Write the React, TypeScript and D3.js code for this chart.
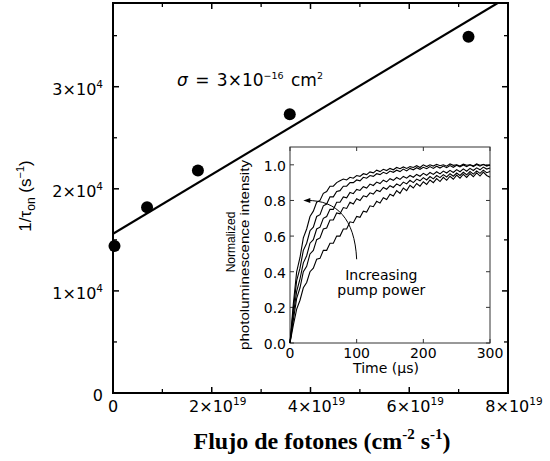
import React from "react";
import * as d3 from "d3";

// ---------- main chart data ----------
const fluxValues = [0.03e19, 0.69e19, 1.72e19, 3.58e19, 7.2e19];
const rateValues = [1.44e4, 1.82e4, 2.18e4, 2.73e4, 3.49e4];
const fitFlux = [0, 8e19];
const fitRate = [1.56e4, 3.88e4];
const xTickValues = [0, 2e19, 4e19, 6e19, 8e19];
const xTickBase = ["0", "2×10", "4×10", "6×10", "8×10"];
const xTickExp = ["", "19", "19", "19", "19"];
const xMinorTicks = [1e19, 3e19, 5e19, 7e19];
const yTickValues = [0, 1e4, 2e4, 3e4];
const yTickBase = ["0", "1×10", "2×10", "3×10"];
const yTickExp = ["", "4", "4", "4"];
const yMinorTicks = [0.5e4, 1.5e4, 2.5e4, 3.5e4];

// ---------- inset data ----------
const timeUs = [
  0, 5, 10, 15, 20, 25, 30, 35, 40, 45, 50, 55, 60, 65, 70, 75, 80, 85, 90, 95,
  100, 105, 110, 115, 120, 125, 130, 135, 140, 145, 150, 155, 160, 165, 170, 175,
  180, 185, 190, 195, 200, 205, 210, 215, 220, 225, 230, 235, 240, 245, 250, 255,
  260, 265, 270, 275, 280, 285, 290, 295, 300,
];
const curveA = [
  0.0, 0.22, 0.4, 0.48, 0.59, 0.64, 0.71, 0.74, 0.79, 0.8,
  0.84, 0.85, 0.88, 0.88, 0.9, 0.91, 0.92, 0.915, 0.93, 0.925,
  0.94, 0.935, 0.95, 0.945, 0.96, 0.955, 0.97, 0.962, 0.975, 0.968,
  0.98, 0.972, 0.985, 0.978, 0.988, 0.98, 0.99, 0.985, 0.995, 0.985,
  1.0, 0.99, 1.0, 0.993, 1.003, 0.995, 1.0, 0.992, 1.005, 0.997,
  1.0, 0.993, 1.004, 0.998, 1.0, 0.994, 1.005, 0.998, 1.002, 0.996,
  0.998,
];
const curveB = [
  0.0, 0.19, 0.35, 0.42, 0.52, 0.56, 0.63, 0.65, 0.71, 0.72,
  0.77, 0.78, 0.82, 0.82, 0.85, 0.855, 0.88, 0.88, 0.9, 0.9,
  0.915, 0.91, 0.93, 0.925, 0.94, 0.935, 0.95, 0.945, 0.958, 0.95,
  0.965, 0.958, 0.97, 0.962, 0.976, 0.966, 0.98, 0.972, 0.984, 0.975,
  0.986, 0.978, 0.99, 0.98, 0.992, 0.982, 0.993, 0.984, 0.996, 0.986,
  0.998, 0.988, 0.999, 0.99, 1.0, 0.99, 1.002, 0.992, 1.003, 0.993,
  0.999,
];
const curveC = [
  0.0, 0.16, 0.29, 0.36, 0.45, 0.49, 0.56, 0.58, 0.64, 0.65,
  0.7, 0.71, 0.75, 0.75, 0.79, 0.79, 0.82, 0.815, 0.845, 0.838,
  0.862, 0.856, 0.877, 0.87, 0.892, 0.884, 0.903, 0.895, 0.914, 0.904,
  0.922, 0.913, 0.929, 0.918, 0.935, 0.925, 0.94, 0.93, 0.946, 0.936,
  0.952, 0.941, 0.957, 0.946, 0.961, 0.949, 0.965, 0.954, 0.969, 0.957,
  0.973, 0.961, 0.977, 0.964, 0.98, 0.968, 0.983, 0.972, 0.987, 0.976,
  0.982,
];
const curveD = [
  0.0, 0.13, 0.25, 0.31, 0.4, 0.43, 0.5, 0.52, 0.58, 0.59,
  0.64, 0.645, 0.69, 0.69, 0.73, 0.725, 0.76, 0.755, 0.79, 0.78,
  0.81, 0.8, 0.826, 0.82, 0.843, 0.836, 0.858, 0.85, 0.873, 0.863,
  0.883, 0.873, 0.893, 0.882, 0.903, 0.893, 0.913, 0.9, 0.92, 0.91,
  0.928, 0.915, 0.934, 0.921, 0.94, 0.928, 0.945, 0.932, 0.95, 0.936,
  0.954, 0.94, 0.958, 0.944, 0.962, 0.948, 0.966, 0.952, 0.97, 0.956,
  0.962,
];
const curveE = [
  0.0, 0.1, 0.19, 0.24, 0.31, 0.34, 0.4, 0.42, 0.47, 0.475,
  0.52, 0.52, 0.56, 0.56, 0.6, 0.6, 0.64, 0.64, 0.68, 0.675,
  0.71, 0.705, 0.74, 0.735, 0.77, 0.765, 0.795, 0.785, 0.815, 0.805,
  0.835, 0.825, 0.855, 0.84, 0.87, 0.855, 0.885, 0.87, 0.895, 0.88,
  0.905, 0.89, 0.915, 0.9, 0.923, 0.906, 0.93, 0.913, 0.936, 0.919,
  0.942, 0.925, 0.947, 0.929, 0.951, 0.933, 0.955, 0.937, 0.959, 0.94,
  0.93,
];
const insetCurves = [curveA, curveB, curveC, curveD, curveE];
const insetYTicks = [0, 0.2, 0.4, 0.6, 0.8, 1.0];
const insetYLabels = ["0.0", "0.2", "0.4", "0.6", "0.8", "1.0"];
const insetXTicks = [0, 100, 200, 300];
const insetXLabels = ["0", "100", "200", "300"];
const arrowT = [100, 97, 70, 20];
const arrowV = [0.47, 0.7, 0.8, 0.8];

const W = 550;
const H = 461;
const SANS = "'DejaVu Sans', sans-serif";
const ARIAL = "'Liberation Sans', Arial, sans-serif";

export default function App() {
  const x = d3.scaleLinear().domain([0, 8e19]).range([113, 508]);
  const y = d3.scaleLinear().domain([0, 3.82e4]).range([393, 3]);

  const ix = d3.scaleLinear().domain([0, 300]).range([290, 490]);
  const iy = d3.scaleLinear().domain([0, 1.1]).range([343, 147]);

  const fitLine = d3
    .line<number>()
    .x((_, i) => x(fitFlux[i]))
    .y((_, i) => y(fitRate[i]));

  const curveLine = d3
    .line<number>()
    .x((_, i) => ix(timeUs[i]))
    .y((v) => iy(v));

  const ap = d3.path();
  ap.moveTo(ix(arrowT[0]), iy(arrowV[0]));
  ap.bezierCurveTo(
    ix(arrowT[1]), iy(arrowV[1]),
    ix(arrowT[2]), iy(arrowV[2]),
    ix(arrowT[3]) + 4, iy(arrowV[3])
  );
  const tipX = ix(arrowT[3]);
  const tipY = iy(arrowV[3]);

  const x0 = x(0), x1 = x(8e19), y0 = y(0), y1 = y(3.82e4);

  return (
    <svg
      width={W}
      height={H}
      style={{ position: "absolute", left: 0, top: 0, background: "#fff" }}
    >
      <defs>
        <clipPath id="plotClip">
          <rect x={x0} y={y1} width={x1 - x0} height={y0 - y1} />
        </clipPath>
      </defs>

      {/* main frame */}
      <rect x={x0} y={y1} width={x1 - x0} height={y0 - y1} fill="none" stroke="#000" strokeWidth={2} />

      {/* x ticks (bottom & top, inward) */}
      {xTickValues.map((v, i) => (
        <g key={"xt" + i}>
          <line x1={x(v)} x2={x(v)} y1={y0} y2={y0 - 6} stroke="#000" strokeWidth={1.5} />
          <line x1={x(v)} x2={x(v)} y1={y1} y2={y1 + 6} stroke="#000" strokeWidth={1.5} />
          <text
            x={x(v) + (xTickExp[i] ? 6 : 0)}
            y={412}
            textAnchor="middle"
            fontFamily={SANS}
            fontSize={16}
          >
            {xTickBase[i]}
            {xTickExp[i] && (
              <tspan fontSize={10.5} dy={-7}>{xTickExp[i]}</tspan>
            )}
          </text>
        </g>
      ))}
      {xMinorTicks.map((v, i) => (
        <g key={"xm" + i}>
          <line x1={x(v)} x2={x(v)} y1={y0} y2={y0 - 4} stroke="#000" strokeWidth={1.3} />
          <line x1={x(v)} x2={x(v)} y1={y1} y2={y1 + 4} stroke="#000" strokeWidth={1.3} />
        </g>
      ))}

      {/* y ticks (left & right, inward) */}
      {yTickValues.map((v, i) => (
        <g key={"yt" + i}>
          <line x1={x0} x2={x0 + 6} y1={y(v)} y2={y(v)} stroke="#000" strokeWidth={1.5} />
          <line x1={x1} x2={x1 - 6} y1={y(v)} y2={y(v)} stroke="#000" strokeWidth={1.5} />
          <text x={103} y={y(v) + 8} textAnchor="end" fontFamily={SANS} fontSize={16}>
            {yTickBase[i]}
            {yTickExp[i] && (
              <tspan fontSize={10.5} dy={-7}>{yTickExp[i]}</tspan>
            )}
          </text>
        </g>
      ))}
      {yMinorTicks.map((v, i) => (
        <g key={"ym" + i}>
          <line x1={x0} x2={x0 + 4} y1={y(v)} y2={y(v)} stroke="#000" strokeWidth={1.3} />
          <line x1={x1} x2={x1 - 4} y1={y(v)} y2={y(v)} stroke="#000" strokeWidth={1.3} />
        </g>
      ))}

      {/* fit line */}
      <path d={fitLine(fitFlux) || ""} fill="none" stroke="#000" strokeWidth={2.2} clipPath="url(#plotClip)" />

      {/* data points */}
      {fluxValues.map((v, i) => (
        <circle key={"pt" + i} cx={x(v)} cy={y(rateValues[i])} r={6} fill="#000" />
      ))}

      {/* sigma annotation */}
      <text x={177} y={86} fontFamily={SANS} fontSize={17} wordSpacing={2}>
        <tspan fontStyle="italic">σ</tspan>
        <tspan>{" = 3×10"}</tspan>
        <tspan fontSize={9.5} dy={-7}>{"−16"}</tspan>
        <tspan dy={7}>{" cm"}</tspan>
        <tspan fontSize={9.5} dy={-7}>2</tspan>
      </text>

      {/* main y label */}
      <text
        transform={`translate(31,196) rotate(-90)`}
        textAnchor="middle"
        fontFamily={ARIAL}
        fontSize={17}
      >
        1/τ
        <tspan fontSize={12} dy={4}>on</tspan>
        <tspan dy={-4}>{" (s"}</tspan>
        <tspan fontSize={11} dy={-7}>−1</tspan>
        <tspan dy={7}>)</tspan>
      </text>

      {/* main x label */}
      <text
        x={322}
        y={449}
        textAnchor="middle"
        fontFamily="'Liberation Serif', 'Times New Roman', serif"
        fontWeight="bold"
        fontSize={24}
      >
        Flujo de fotones (cm
        <tspan fontSize={15} dy={-10}>-2</tspan>
        <tspan dy={10}>{" s"}</tspan>
        <tspan fontSize={15} dy={-10}>-1</tspan>
        <tspan dy={10}>)</tspan>
      </text>

      {/* ---------- inset ---------- */}
      <rect x={ix(0)} y={iy(1.1)} width={ix(300) - ix(0)} height={iy(0) - iy(1.1)} fill="#fff" stroke="#333" strokeWidth={1} />
      {insetYTicks.map((v, i) => (
        <g key={"iyt" + i}>
          <line x1={ix(0)} x2={ix(0) + 4} y1={iy(v)} y2={iy(v)} stroke="#333" strokeWidth={1} />
          <line x1={ix(300)} x2={ix(300) - 4} y1={iy(v)} y2={iy(v)} stroke="#333" strokeWidth={1} />
          <text x={286} y={iy(v) + 6} textAnchor="end" fontFamily={SANS} fontSize={14}>
            {insetYLabels[i]}
          </text>
        </g>
      ))}
      {insetXTicks.map((v, i) => (
        <g key={"ixt" + i}>
          <line x1={ix(v)} x2={ix(v)} y1={iy(0)} y2={iy(0) - 4} stroke="#333" strokeWidth={1} />
          <line x1={ix(v)} x2={ix(v)} y1={iy(1.1)} y2={iy(1.1) + 4} stroke="#333" strokeWidth={1} />
          <text x={ix(v)} y={358} textAnchor="middle" fontFamily={SANS} fontSize={14}>
            {insetXLabels[i]}
          </text>
        </g>
      ))}
      <text x={386} y={373} textAnchor="middle" fontFamily={SANS} fontSize={14}>
        Time (µs)
      </text>
      <text
        transform={`translate(235,242) rotate(-90)`}
        textAnchor="middle"
        fontFamily={ARIAL}
        fontSize={12}
      >
        Normalized
      </text>
      <text
        transform={`translate(249,255) rotate(-90)`}
        textAnchor="middle"
        fontFamily={ARIAL}
        fontSize={12.5}
        textLength={190}
        lengthAdjust="spacingAndGlyphs"
      >
        photoluminescence intensity
      </text>

      {insetCurves.map((c, i) => (
        <path key={"cv" + i} d={curveLine(c) || ""} fill="none" stroke="#000" strokeWidth={1.1} />
      ))}

      {/* arrow */}
      <path d={ap.toString()} fill="none" stroke="#000" strokeWidth={1} />
      <polygon
        points={`${tipX},${tipY} ${tipX + 7},${tipY - 2.5} ${tipX + 7},${tipY + 2.5}`}
        fill="#000"
      />

      <text x={ix(137)} y={280} textAnchor="middle" fontFamily={SANS} fontSize={14}>
        Increasing
      </text>
      <text x={ix(137)} y={295} textAnchor="middle" fontFamily={SANS} fontSize={14}>
        pump power
      </text>
    </svg>
  );
}
